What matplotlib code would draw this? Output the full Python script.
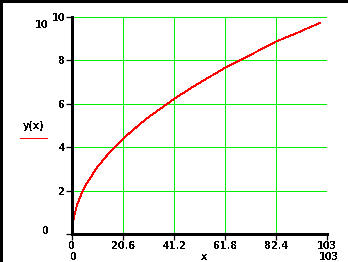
import matplotlib
matplotlib.use('Agg')
import matplotlib.pyplot as plt
from matplotlib.lines import Line2D

# Values
x_vals = [0, 0.1, 0.25, 0.5, 1, 2, 4, 6, 10, 15, 20.6, 30, 41.2, 50, 61.8, 70, 82.4, 90, 100]
y_vals = [0, 0.31, 0.49, 0.69, 0.97, 1.38, 1.95, 2.38, 3.08, 3.77, 4.42, 5.33, 6.24, 6.88, 7.67, 8.14, 8.88, 9.23, 9.73]

x_ticks = [0, 20.6, 41.2, 61.8, 82.4, 103]
x_ticklabels = ['0', '20.6', '41.2', '61.8', '82.4', '103']
y_ticks = [0, 2, 4, 6, 8, 10]
y_ticklabels = ['', '2', '4', '6', '8', '10']

plt.rcParams['font.family'] = 'DejaVu Sans'
plt.rcParams['font.weight'] = 'bold'
plt.rcParams['text.antialiased'] = False

fig = plt.figure(figsize=(3.48, 2.62), dpi=100)
ax = fig.add_axes([0.2078, 0.1053, 0.7328, 0.8298])

ax.plot(x_vals, y_vals, color='#ff0000', lw=0.6, antialiased=False, zorder=3)

ax.set_xlim(0, 103)
ax.set_ylim(0, 10)
ax.set_xticks(x_ticks)
ax.set_xticklabels(x_ticklabels)
ax.set_yticks(y_ticks)
ax.set_yticklabels(y_ticklabels)
ax.grid(True, color='#00ee00', lw=0.72, antialiased=False)
ax.set_axisbelow(True)

for side in ['top', 'right']:
    ax.spines[side].set_visible(False)
for side in ['left', 'bottom']:
    ax.spines[side].set_linewidth(0.9)
    ax.spines[side].set_color('black')
    ax.spines[side].set_antialiased(False)
    ax.spines[side].set_zorder(4)

ax.tick_params(axis='both', length=4, width=0.9, labelsize=7, colors='black', pad=1)

# axis limit labels and legend, placed like the original worksheet plot
fig.text(42 / 348, 1 - 25 / 262, '10', fontsize=7, ha='center', va='center')
fig.text(46 / 348, 1 - 231 / 262, '0', fontsize=7, ha='center', va='center')
fig.text(34 / 348, 1 - 126 / 262, 'y(x)', fontsize=7, ha='center', va='center')
fig.add_artist(Line2D([20 / 348, 47 / 348], [1 - 138 / 262, 1 - 138 / 262],
                      color='#ff0000', lw=0.6, antialiased=False))
fig.text(74 / 348, 1 - 257.5 / 262, '0', fontsize=7, ha='center', va='center')
fig.text(204 / 348, 1 - 257.5 / 262, 'x', fontsize=7, ha='center', va='center')
fig.text(329 / 348, 1 - 257.5 / 262, '103', fontsize=7, ha='center', va='center')

# worksheet frame on the left and top edges
fig.add_artist(Line2D([0.5 / 348, 0.5 / 348], [0, 1], color='black', lw=1.0, antialiased=False))
fig.add_artist(Line2D([0, 1], [1 - 0.5 / 262, 1 - 0.5 / 262], color='black', lw=1.0, antialiased=False))

fig.savefig('out.png', dpi=100)
